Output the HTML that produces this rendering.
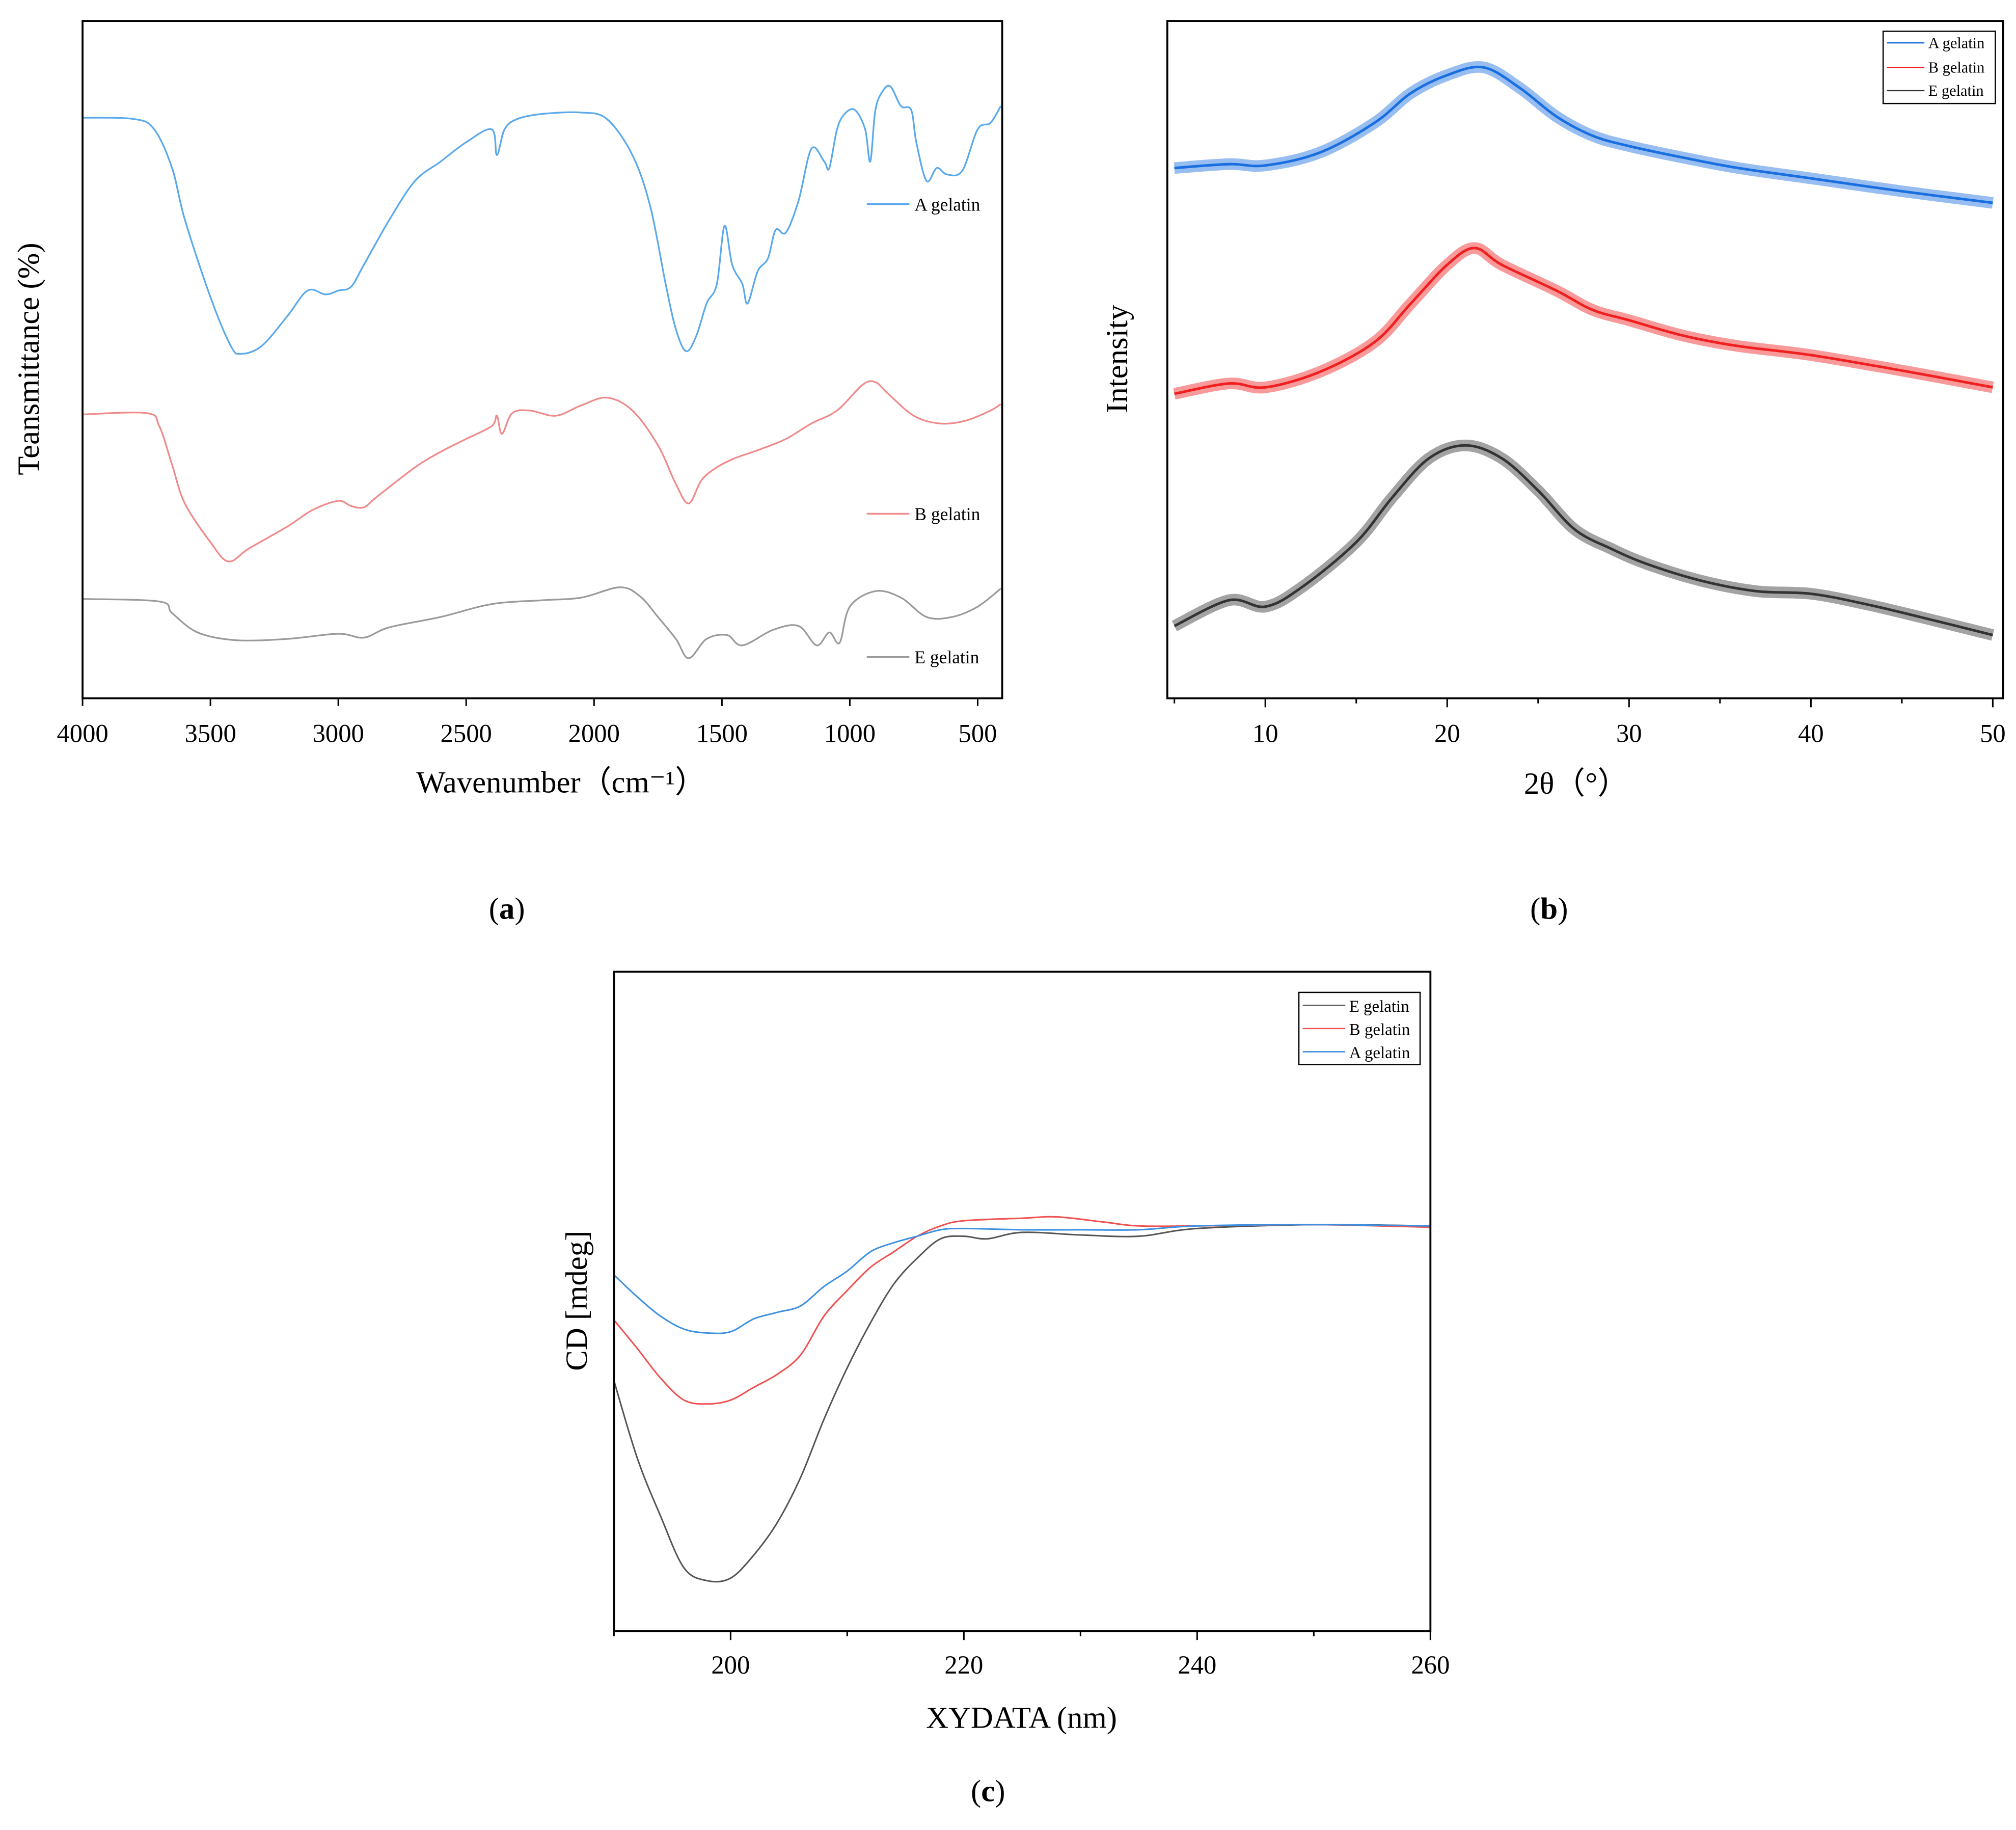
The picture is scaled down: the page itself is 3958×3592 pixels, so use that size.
<!DOCTYPE html>
<html><head><meta charset="utf-8">
<style>
html,body{margin:0;padding:0;background:#fff;}
svg{display:block;font-family:"Liberation Serif",serif;}
</style></head>
<body>
<svg id="fig" width="3958" height="3592" viewBox="0 0 1563 1418" xmlns="http://www.w3.org/2000/svg">
<rect x="0" y="0" width="1563" height="1418" fill="#fff"/>
<g id="ga"></g>
<g id="gb"></g>
<g id="gc"></g>
<text x="393" y="712" text-anchor="middle" font-size="24">(<tspan font-weight="bold">a</tspan>)</text>
<text x="1201" y="712" text-anchor="middle" font-size="24">(<tspan font-weight="bold">b</tspan>)</text>
<text x="766" y="1396" text-anchor="middle" font-size="24">(<tspan font-weight="bold">c</tspan>)</text>
</svg>
<script>
// ---------- Panel (a) FTIR ----------
const ftirAx = [4000,3800,3720,3650,3600,3500,3420,3380,3300,3200,3120,3050,3000,2950,2900,2800,2700,2600,2500,2400,2380,2350,2300,2200,2050,1950,1850,1780,1720,1680,1640,1600,1560,1520,1490,1460,1420,1400,1360,1320,1290,1250,1200,1150,1100,1080,1050,1020,980,940,920,900,870,840,800,760,740,700,660,620,560,500,450,410];
const ftirAy = [450,449,441,411,371,311,273,267,273,296,316,313,316,319,336,371,401,416,431,441,421,441,449,453,454,449,421,381,321,286,269,281,306,321,366,336,321,306,331,341,363,361,386,426,416,411,441,453,456,441,416,456,471,474,459,456,431,401,411,406,409,441,446,459];
const ftirBx = [4000,3750,3700,3650,3600,3500,3430,3350,3200,3100,3000,2950,2900,2850,2700,2600,2500,2400,2380,2360,2320,2250,2150,2050,1950,1850,1750,1680,1630,1580,1520,1450,1350,1250,1150,1050,950,900,850,750,650,550,450,410];
const ftirBy = [220,221,211,181,151,121,106,116,133,146,153,149,148,156,179,191,201,211,219,205,221,223,219,227,233,223,196,166,151,169,179,186,193,201,213,223,243,245,236,219,213,215,223,228];
const ftirEx = [4000,3700,3650,3550,3400,3200,3000,2900,2800,2600,2400,2200,2050,1900,1820,1750,1680,1630,1560,1480,1420,1300,1200,1130,1080,1040,1000,900,800,700,600,500,410];
const ftirEy = [77,75,66,51,45,46,50,47,55,63,73,76,78,86,79,63,46,31,46,49,41,53,56,41,51,43,71,83,78,63,63,71,85];
const ftirTicks = [4000,3500,3000,2500,2000,1500,1000,500];
// ---------- Panel (b) XRD ----------
const xrdAx = [5,8,10,13,16,18,20,22,24,26,28,30,33,36,40,45,50];
const xrdAy = [411,414,413,423,446,469,483,489,473,451,436,428,419,411,403,393,384];
const xrdBx = [5,8,10,13,16,18,20,21.5,23,26,28,30,33,36,40,45,50];
const xrdBy = [236,244,241,253,276,306,336,349,336,316,301,293,281,273,266,254,241];
const xrdEx = [5,8,10,12,15,17,19,21,23,25,27,29,31,34,37,40,43,46,50];
const xrdEy = [56,76,71,86,121,156,186,196,186,161,131,116,104,91,83,81,73,63,49];
const xrdTicks = [10,20,30,40,50];
// ---------- Panel (c) CD ----------
const cdX = [190,192,194,196,198,200,202,204,206,208,210,212,214,216,218,220,222,225,230,235,240,250,260];
const cdE = [194,134,89,49,39,41,59,84,119,164,204,239,269,289,304,306,304,309,307,306,312,315,314];
const cdAx = [190,192,194,196,198,200,202,204,206,208,210,212,214,216,218,220,225,230,235,240,250,260];
const cdA = [276,259,244,234,231,232,242,247,252,267,279,294,301,306,311,312,311,311,311,314,315,314];
const cdBx = [190,192,194,196,198,200,202,204,206,208,210,212,214,216,218,220,225,228,232,235,240,250,260];
const cdB = [241,219,196,179,176,179,189,199,214,244,264,282,294,306,314,318,320,321,317,314,314,315,313];
const cdTicks = [200,220,240,260];

const NS="http://www.w3.org/2000/svg";
function mk(parent,tag,attrs,text){const e=document.createElementNS(NS,tag);for(const k in attrs)e.setAttribute(k,attrs[k]);if(text!==undefined)e.textContent=text;parent.appendChild(e);return e;}
function lin(d0,d1,r0,r1){return v=>r0+(v-d0)*(r1-r0)/(d1-d0);}
function smoothPath(xs,ys,sx,sy){
  const p=xs.map((x,i)=>[sx(x),sy(ys[i])]);
  let d="M"+p[0][0].toFixed(2)+","+p[0][1].toFixed(2);
  for(let i=0;i<p.length-1;i++){
    const p0=p[i-1]||p[i],p1=p[i],p2=p[i+1],p3=p[i+2]||p2;
    const c1=[p1[0]+(p2[0]-p0[0])/6,p1[1]+(p2[1]-p0[1])/6];
    const c2=[p2[0]-(p3[0]-p1[0])/6,p2[1]-(p3[1]-p1[1])/6];
    d+=" C"+c1.map(v=>v.toFixed(2))+" "+c2.map(v=>v.toFixed(2))+" "+p2[0].toFixed(2)+","+p2[1].toFixed(2);
  }
  return d;
}

// Panel a
(function(){
  const g=document.getElementById('ga');
  const sx=lin(4000,500,64,758), sy=lin(0,525,541,16);
  const cp=mk(g,'clipPath',{id:'cpa'});mk(cp,'rect',{x:64,y:16,width:713,height:525});
  const series=[[ftirAx,ftirAy,'#5aa9ec','ftir-line-a'],[ftirBx,ftirBy,'#f08a8a','ftir-line-b'],[ftirEx,ftirEy,'#9a9a9a','ftir-line-e']];
  series.forEach(s=>{const p=mk(g,'path',{d:smoothPath(s[0],s[1],sx,sy),fill:'none',stroke:s[2],'stroke-width':1.3,'clip-path':'url(#cpa)'});
    
    });
  const f=mk(g,'rect',{x:64,y:16,width:713,height:525,fill:'none',stroke:'#000','stroke-width':1.5});
  
  
  ftirTicks.forEach(t=>{const x=sx(t);mk(g,'line',{x1:x,x2:x,y1:541,y2:547,stroke:'#000','stroke-width':1.2});
    const tl=mk(g,'text',{x:x,y:575,'text-anchor':'middle','font-size':20},String(t));
    
    });
  const xt=mk(g,'text',{x:435,y:614,'text-anchor':'middle','font-size':24},'Wavenumber（cm⁻¹）');
  
  
  const yt=mk(g,'text',{x:0,y:0,'text-anchor':'middle','font-size':24,transform:'translate(30,278) rotate(-90)'},'Teansmittance (%)');
  
  
  [['A gelatin',158,'#5aa9ec'],['B gelatin',398,'#f08a8a'],['E gelatin',509,'#9a9a9a']].forEach(l=>{
    mk(g,'line',{x1:672,x2:705,y1:l[1],y2:l[1],stroke:l[2],'stroke-width':1.3});
    const t=mk(g,'text',{x:709,y:l[1]+5,'font-size':14},l[0]);
    
    });
})();

// Panel b
(function(){
  const g=document.getElementById('gb');
  const sx=lin(10,50,981,1545), sy=lin(0,525,541,16);
  const cp=mk(g,'clipPath',{id:'cpb'});mk(cp,'rect',{x:905,y:16,width:648,height:525});
  const series=[[xrdAx,xrdAy,'#1a6fe0','xrd-line-a'],[xrdBx,xrdBy,'#f02020','xrd-line-b'],[xrdEx,xrdEy,'#333','xrd-line-e']];
  series.forEach(s=>{const d=smoothPath(s[0],s[1],sx,sy);
    mk(g,'path',{d:d,fill:'none',stroke:s[2],'stroke-width':9,'stroke-opacity':0.45,'clip-path':'url(#cpb)'});
    const p=mk(g,'path',{d:d,fill:'none',stroke:s[2],'stroke-width':2,'clip-path':'url(#cpb)'});
    
    });
  const f=mk(g,'rect',{x:905,y:16,width:648,height:525,fill:'none',stroke:'#000','stroke-width':1.5});
  
  
  for(let t=5;t<=50;t+=5){const x=sx(t);mk(g,'line',{x1:x,x2:x,y1:541,y2:t%10===0?548:545,stroke:'#000','stroke-width':1.2});}
  xrdTicks.forEach(t=>{const tl=mk(g,'text',{x:sx(t),y:575,'text-anchor':'middle','font-size':20},String(t));
    
    });
  const xt=mk(g,'text',{x:1222,y:615,'text-anchor':'middle','font-size':24},'2θ（°）');
  
  
  const yt=mk(g,'text',{x:0,y:0,'text-anchor':'middle','font-size':24,transform:'translate(874,278) rotate(-90)'},'Intensity');
  
  
  const lb=mk(g,'rect',{x:1460,y:24,width:87,height:56,fill:'#fff',stroke:'#000','stroke-width':1});
  
  
  [['A gelatin',33,'#1a6fe0'],['B gelatin',52,'#f02020'],['E gelatin',70,'#333']].forEach(l=>{
    mk(g,'line',{x1:1463,x2:1492,y1:l[1],y2:l[1],stroke:l[2],'stroke-width':1});
    const t=mk(g,'text',{x:1495,y:l[1]+4,'font-size':12},l[0]);
    
    });
})();

// Panel c
(function(){
  const g=document.getElementById('gc');
  const sx=lin(190,260,476,1109), sy=lin(0,511,1264,753);
  const cp=mk(g,'clipPath',{id:'cpc'});mk(cp,'rect',{x:476,y:753,width:633,height:511});
  const series=[[cdX,cdE,'#555','cd-line-e'],[cdBx,cdB,'#f05050','cd-line-b'],[cdAx,cdA,'#3d8fe0','cd-line-a']];
  series.forEach(s=>{const p=mk(g,'path',{d:smoothPath(s[0],s[1],sx,sy),fill:'none',stroke:s[2],'stroke-width':1.2,'clip-path':'url(#cpc)'});
    
    });
  const f=mk(g,'rect',{x:476,y:753,width:633,height:511,fill:'none',stroke:'#000','stroke-width':1.5});
  
  
  for(let t=190;t<=260;t+=10){const x=sx(t);mk(g,'line',{x1:x,x2:x,y1:1264,y2:(t%20===0)?1271:1268,stroke:'#000','stroke-width':1.2});}
  cdTicks.forEach(t=>{const tl=mk(g,'text',{x:sx(t),y:1297,'text-anchor':'middle','font-size':20},String(t));
    
    });
  const xt=mk(g,'text',{x:792,y:1339,'text-anchor':'middle','font-size':24},'XYDATA (nm)');
  
  
  const yt=mk(g,'text',{x:0,y:0,'text-anchor':'middle','font-size':24,transform:'translate(455,1008) rotate(-90)'},'CD [mdeg]');
  
  
  const lb=mk(g,'rect',{x:1007,y:769,width:94,height:56,fill:'#fff',stroke:'#000','stroke-width':1});
  
  
  [['E gelatin',779,'#555'],['B gelatin',797,'#f05050'],['A gelatin',815,'#3d8fe0']].forEach(l=>{
    mk(g,'line',{x1:1010,x2:1043,y1:l[1],y2:l[1],stroke:l[2],'stroke-width':1});
    const t=mk(g,'text',{x:1046,y:l[1]+5,'font-size':13},l[0]);
    
    });
})();
</script>
</body></html>
